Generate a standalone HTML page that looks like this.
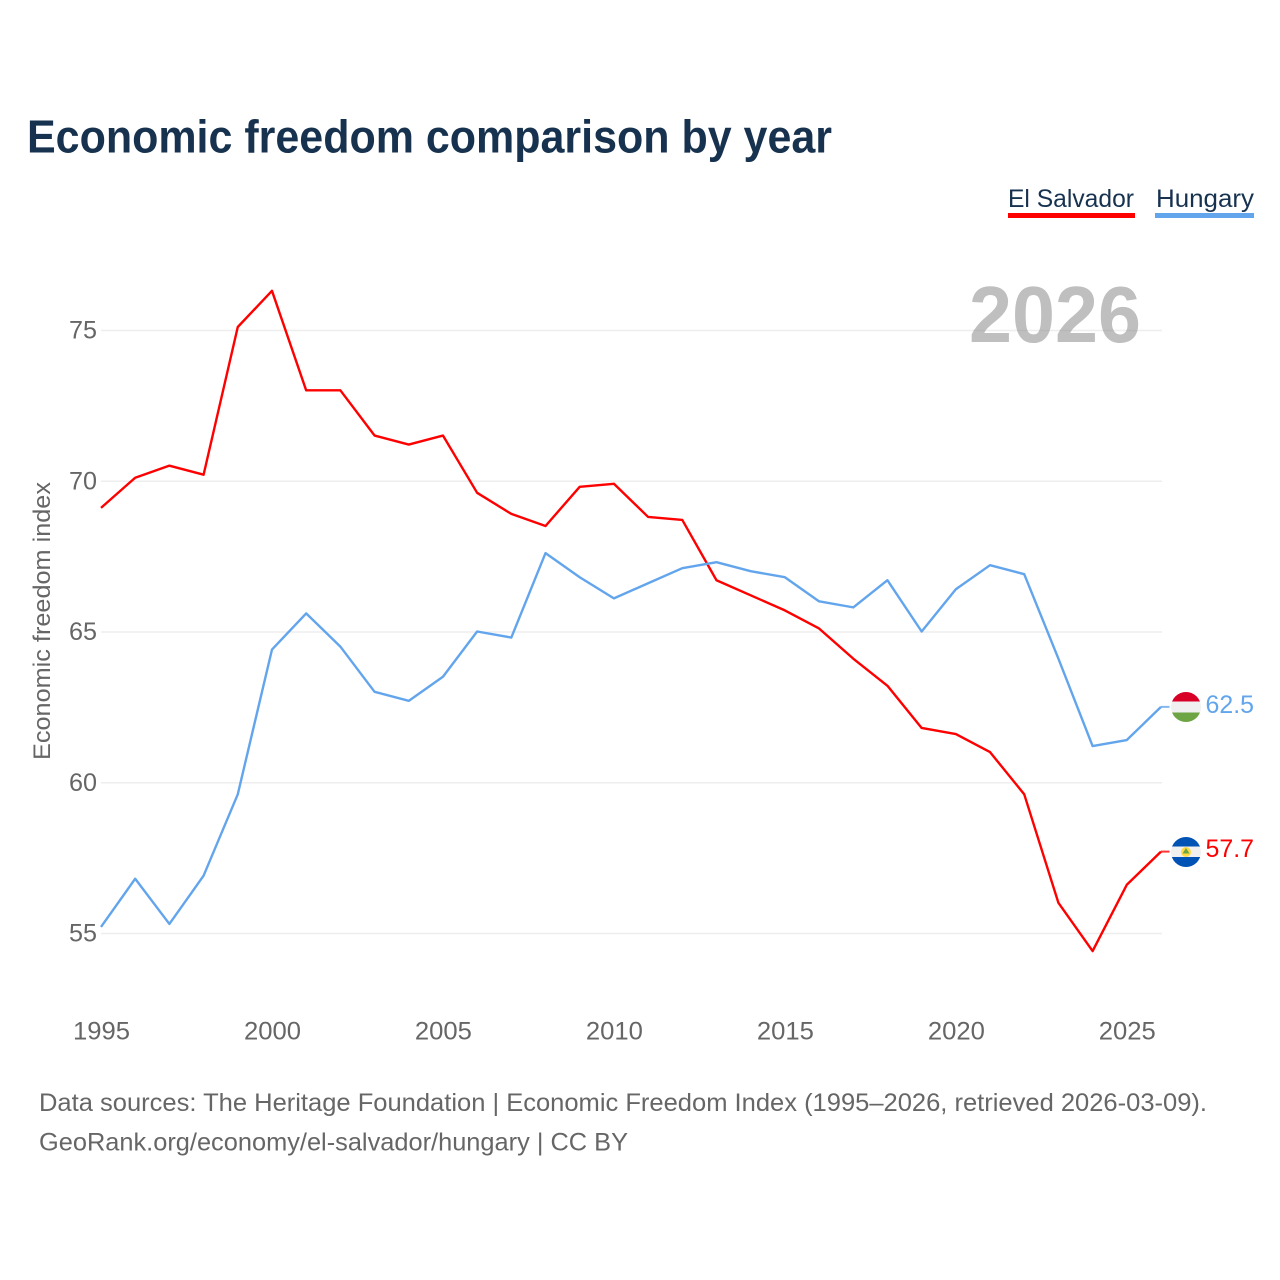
<!DOCTYPE html>
<html lang="en">
<head>
<meta charset="utf-8">
<title>Economic freedom comparison by year</title>
<style>
html,body{margin:0;padding:0;background:#fff;}
svg{display:block;font-family:"Liberation Sans",sans-serif;}
</style>
</head>
<body>
<svg id="chart" xmlns="http://www.w3.org/2000/svg" width="1280" height="1280" viewBox="0 0 1280 1280">
  <rect width="1280" height="1280" fill="#ffffff"/>
  <text x="27" y="152.500" font-size="46" font-weight="700" fill="#17324f" textLength="805" lengthAdjust="spacingAndGlyphs">Economic freedom comparison by year</text>

  <g id="grid"></g>
  <g id="yticks"></g>
  <g id="xticks"></g>
  <text transform="translate(50,621) rotate(-90)" text-anchor="middle" font-size="24" fill="#666666" textLength="278" lengthAdjust="spacingAndGlyphs">Economic freedom index</text>

  <text x="969" y="342" font-size="80" font-weight="700" fill="#808080" fill-opacity="0.5" textLength="172" lengthAdjust="spacingAndGlyphs">2026</text>

  <g id="series" transform="translate(-0.5,-0.5)"></g>

  <g>
    <text x="1008" y="207" font-size="25" fill="#17324f" textLength="126" lengthAdjust="spacingAndGlyphs">El Salvador</text>
    <rect x="1008" y="213" width="127" height="5" fill="#ff0000"/>
  </g>
  <g>
    <text x="1156" y="207" font-size="25" fill="#17324f" textLength="98" lengthAdjust="spacingAndGlyphs">Hungary</text>
    <rect x="1155" y="213" width="99" height="5" fill="#63a5ec"/>
  </g>

  <defs>
    <clipPath id="flag-clip-hu"><circle cx="1186" cy="707" r="15"/></clipPath>
    <clipPath id="flag-clip-sv"><circle cx="1186" cy="852" r="15"/></clipPath>
  </defs>
  <g id="flag-hungary" clip-path="url(#flag-clip-hu)">
    <rect x="1171" y="692" width="30" height="10" fill="#d80027"/>
    <rect x="1171" y="701.500" width="30" height="11" fill="#f0f0f0"/>
    <rect x="1171" y="712.500" width="30" height="10" fill="#6da544"/>
  </g>
  <g id="flag-el-salvador" clip-path="url(#flag-clip-sv)">
    <rect x="1171" y="837" width="30" height="10" fill="#0052b4"/>
    <rect x="1171" y="846.500" width="30" height="11" fill="#f0f0f0"/>
    <rect x="1171" y="857" width="30" height="10" fill="#0052b4"/>
    <circle cx="1186" cy="852" r="5" fill="#ffda44"/>
    <path d="M1182.500 853.500 L1186 848 L1189.500 853.500 Z" fill="#6da544"/>
  </g>

  <text x="1205.500" y="713" font-size="25" fill="#63a5ec" textLength="48.500" lengthAdjust="spacingAndGlyphs">62.5</text>
  <text x="1205.500" y="857" font-size="25" fill="#ff0000" textLength="48.500" lengthAdjust="spacingAndGlyphs">57.7</text>

  <text x="39" y="1111" font-size="25" fill="#666666" textLength="1168" lengthAdjust="spacingAndGlyphs">Data sources: The Heritage Foundation | Economic Freedom Index (1995–2026, retrieved 2026-03-09).</text>
  <text x="39" y="1150.500" font-size="25" fill="#666666" textLength="589" lengthAdjust="spacingAndGlyphs">GeoRank.org/economy/el-salvador/hungary | CC BY</text>
</svg>
<script>
const years = [1995,1996,1997,1998,1999,2000,2001,2002,2003,2004,2005,2006,2007,2008,2009,2010,2011,2012,2013,2014,2015,2016,2017,2018,2019,2020,2021,2022,2023,2024,2025,2026];
const elSalvador = [69.1,70.1,70.5,70.2,75.1,76.3,73,73,71.5,71.2,71.5,69.6,68.9,68.5,69.8,69.9,68.8,68.7,66.7,66.2,65.7,65.1,64.1,63.2,61.8,61.6,61,59.6,56,54.4,56.6,57.7];
const hungary = [55.2,56.8,55.3,56.9,59.6,64.4,65.6,64.5,63,62.7,63.5,65,64.8,67.6,66.8,66.1,66.6,67.1,67.3,67,66.8,66,65.8,66.7,65,66.4,67.2,66.9,64.1,61.2,61.4,62.5];
const yTicks = [55,60,65,70,75];
const xTicks = [1995,2000,2005,2010,2015,2020,2025];

const NS = 'http://www.w3.org/2000/svg';
function xScale(v){ return 101.5 + (v - 1995) * (1060 / 31); }
function yScale(v){ return 933.5 - (v - 55) * (603 / 20); }
function make(tag, parent, attrs){
  const el = document.createElementNS(NS, tag);
  for (const k in attrs) el.setAttribute(k, attrs[k]);
  parent.appendChild(el);
  return el;
}
const grid = document.getElementById('grid');
const yG = document.getElementById('yticks');
const xG = document.getElementById('xticks');
const seriesG = document.getElementById('series');

yTicks.forEach(function(t){
  const line = make('line', grid, {x1:101, x2:1162, y1:yScale(t), y2:yScale(t), stroke:'#eeeeee', 'stroke-width':1.6});
  
  
  const label = make('text', yG, {x:97, y:yScale(t) + 8, 'text-anchor':'end', 'font-size':25, fill:'#666666', textLength:28, lengthAdjust:'spacingAndGlyphs'});
  label.textContent = t;
  
  
});
xTicks.forEach(function(t){
  const label = make('text', xG, {x:xScale(t), y:1039.5, 'text-anchor':'middle', 'font-size':25, fill:'#666666', textLength:57, lengthAdjust:'spacingAndGlyphs'});
  label.textContent = t;
  
  
});
function drawSeries(values, color, name){
  const pts = values.map(function(v, i){ return xScale(years[i]).toFixed(2) + ',' + yScale(v).toFixed(2); }).join(' ');
  const line = make('polyline', seriesG, {points:pts, fill:'none', stroke:color, 'stroke-width':2.4, 'stroke-linejoin':'round'});
  
  
  const last = values[values.length - 1];
  const leader = make('line', seriesG, {x1:xScale(years[years.length - 1]), x2:1170, y1:yScale(last), y2:yScale(last), stroke:color, 'stroke-width':2, 'stroke-opacity':0.8});
  
  
}
drawSeries(elSalvador, '#ff0000', 'el-salvador');
drawSeries(hungary, '#63a5ec', 'hungary');
</script>
</body>
</html>
